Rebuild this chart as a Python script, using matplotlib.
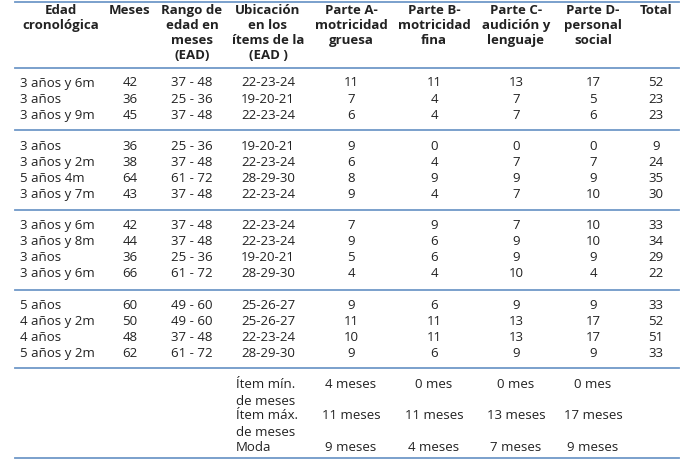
import matplotlib
matplotlib.use("Agg")
import matplotlib.pyplot as plt

headers = ["Edad\ncronológica", "Meses", "Rango de\nedad en\nmeses\n(EAD)", "Ubicación\nen los\nítems de la\n(EAD )",
           "Parte A-\nmotricidad\ngruesa", "Parte B-\nmotricidad\nfina", "Parte C-\naudición y\nlenguaje",
           "Parte D-\npersonal\nsocial", "Total"]
edad = ["3 años y 6m", "3 años", "3 años y 9m",
        "3 años", "3 años y 2m", "5 años 4m", "3 años y 7m",
        "3 años y 6m", "3 años y 8m", "3 años", "3 años y 6m",
        "5 años", "4 años y 2m", "4 años", "5 años y 2m"]
meses = [42, 36, 45, 36, 38, 64, 43, 42, 44, 36, 66, 60, 50, 48, 62]
rango = ["37 - 48", "25 - 36", "37 - 48", "25 - 36", "37 - 48", "61 - 72", "37 - 48",
         "37 - 48", "37 - 48", "25 - 36", "61 - 72", "49 - 60", "49 - 60", "37 - 48", "61 - 72"]
ubic = ["22-23-24", "19-20-21", "22-23-24", "19-20-21", "22-23-24", "28-29-30", "22-23-24",
        "22-23-24", "22-23-24", "19-20-21", "28-29-30", "25-26-27", "25-26-27", "22-23-24", "28-29-30"]
parte_a = [11, 7, 6, 9, 6, 8, 9, 7, 9, 5, 4, 9, 11, 10, 9]
parte_b = [11, 4, 4, 0, 4, 9, 4, 9, 6, 6, 4, 6, 11, 11, 6]
parte_c = [13, 7, 7, 0, 7, 9, 7, 7, 9, 9, 10, 9, 13, 13, 9]
parte_d = [17, 5, 6, 0, 7, 9, 10, 10, 10, 9, 4, 9, 17, 17, 9]
total = [52, 23, 23, 9, 24, 35, 30, 33, 34, 29, 22, 33, 52, 51, 33]
groups = [3, 4, 4, 4]
foot_labels = ["Ítem mín.\nde meses", "Ítem máx.\nde meses", "Moda"]
foot_vals = [["4 meses", "0 mes", "0 mes", "0 mes"],
             ["11 meses", "11 meses", "13 meses", "17 meses"],
             ["9 meses", "4 meses", "7 meses", "9 meses"]]

plt.rcParams['font.family'] = ['Liberation Sans Narrow', 'Open Sans', 'DejaVu Sans']
fig = plt.figure(figsize=(6.82, 4.61), dpi=100)
ax = fig.add_axes([0, 0, 1, 1])
ax.set_xlim(0, 682); ax.set_ylim(461, 0); ax.axis('off')

xs = [61, 130, 192, 268, 351, 434, 516, 593, 656]
fs = 9.5
lc = '#6f98c8'
for x, h in zip(xs, headers):
    ax.text(x, 4, h, ha='center', va='top', fontsize=fs, fontweight='bold', linespacing=1.2, color='#222')

line_ys = [2, 68, 130, 210, 290, 368, 458]
for y in line_ys:
    ax.plot([15, 679], [y, y], color=lc, lw=1.3)

starts = [83, 146, 225, 305]
i = 0
for g, s in zip(groups, starts):
    for k in range(g):
        y = s + k * 16
        ax.text(20, y, edad[i], ha='left', va='center', fontsize=fs, color='#222')
        vals = [meses[i], rango[i], ubic[i], parte_a[i], parte_b[i], parte_c[i], parte_d[i], total[i]]
        for x, v in zip(xs[1:], vals):
            ax.text(x, y, str(v), ha='center', va='center', fontsize=fs, color='#222')
        i += 1

fy = [384, 415, 447]
for y, lab, vals in zip(fy, foot_labels, foot_vals):
    ax.text(236, y - 6, lab, ha='left', va='top', fontsize=fs, linespacing=1.35, color='#222')
    for x, v in zip(xs[4:8], vals):
        ax.text(x, y, v, ha='center', va='center', fontsize=fs, color='#222')

fig.savefig('out.png', dpi=100)
